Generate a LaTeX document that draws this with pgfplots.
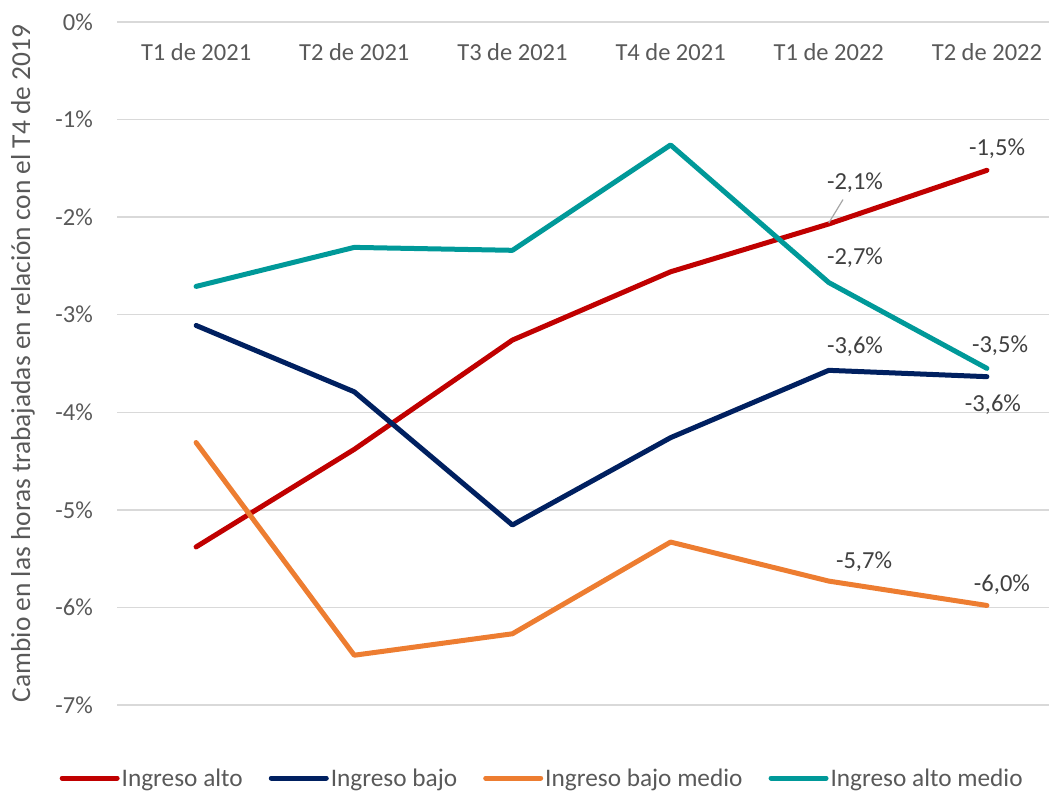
\documentclass[border=0pt]{standalone}
\usepackage{pgfplots}
\pgfplotsset{compat=1.18}
\usepackage{fontspec}
\setmainfont{Carlito}
\definecolor{cRed}{HTML}{C00000}
\definecolor{cNavy}{HTML}{002060}
\definecolor{cOrange}{HTML}{ED7D31}
\definecolor{cTeal}{HTML}{009999}
\definecolor{cGrid}{HTML}{D9D9D9}
\definecolor{cTick}{HTML}{595959}
\definecolor{cLab}{HTML}{404040}
\begin{document}
\begin{tikzpicture}
\useasboundingbox (0,0) rectangle (1049pt,793pt);
\begin{axis}[
  at={(117pt,88pt)}, anchor=south west,
  scale only axis, width=949pt, height=683pt,
  xmin=-0.5, xmax=5.5, ymin=-7, ymax=0,
  axis line style={draw=none},
  major tick length=0pt,
  xtick={0,1,2,3,4,5},
  xticklabels={T1 de 2021,T2 de 2021,T3 de 2021,T4 de 2021,T1 de 2022,T2 de 2022},
  xticklabel pos=upper,
  xticklabel style={anchor=center, yshift=-30pt, font=\fontsize{24.5}{29}\selectfont, text=cTick},
  ytick={0,-1,-2,-3,-4,-5,-6,-7},
  yticklabels={0\%,-1\%,-2\%,-3\%,-4\%,-5\%,-6\%,-7\%},
  yticklabel style={anchor=east, inner sep=0pt, xshift=-24pt, font=\fontsize{24.5}{29}\selectfont, text=cTick},
  ymajorgrids,
  grid style={cGrid, line width=1.5pt},
  ylabel={Cambio en las horas trabajadas en relación con el T4 de 2019},
  ylabel style={at={(axis description cs:-0.0990,0.5)}, anchor=center, rotate=0, font=\fontsize{27.4}{32}\selectfont, text=cTick},
  every axis plot/.append style={line width=5pt, line join=round, line cap=round},
  legend columns=4,
  legend style={at={(axis description cs:0.448,-0.1069)}, anchor=center, draw=none, fill=none,
    font=\fontsize{25.3}{30}\selectfont, text=cTick, inner sep=0pt,
    /tikz/every even column/.append style={column sep=24pt}},
  legend image code/.code={\draw[#1, line width=5pt, line cap=round] (0pt,0pt) -- (55pt,0pt);},
  clip=false,
]
\addplot[cRed] coordinates {(0,-5.38) (1,-4.38) (2,-3.26) (3,-2.56) (4,-2.07) (5,-1.52)};
\addlegendentry{Ingreso alto}
\addplot[cNavy] coordinates {(0,-3.11) (1,-3.79) (2,-5.155) (3,-4.26) (4,-3.57) (5,-3.635)};
\addlegendentry{Ingreso bajo}
\addplot[cOrange] coordinates {(0,-4.31) (1,-6.49) (2,-6.27) (3,-5.33) (4,-5.73) (5,-5.98)};
\addlegendentry{Ingreso bajo medio}
\addplot[cTeal] coordinates {(0,-2.71) (1,-2.31) (2,-2.34) (3,-1.26) (4,-2.67) (5,-3.55)};
\addlegendentry{Ingreso alto medio}
\draw[gray!70, line width=1.2pt] (axis cs:4.09,-1.82) -- (axis cs:4.0,-2.06);
\begin{scope}[every node/.style={font=\fontsize{24.5}{29}\selectfont, text=cLab}]
\node at (axis cs:4.166,-1.65) {-2,1\%};
\node at (axis cs:5.064,-1.30) {-1,5\%};
\node at (axis cs:4.166,-2.42) {-2,7\%};
\node at (axis cs:4.166,-3.33) {-3,6\%};
\node at (axis cs:5.083,-3.32) {-3,5\%};
\node at (axis cs:5.038,-3.92) {-3,6\%};
\node at (axis cs:4.223,-5.53) {-5,7\%};
\node at (axis cs:5.095,-5.77) {-6,0\%};
\end{scope}
\end{axis}
\end{tikzpicture}
\end{document}
